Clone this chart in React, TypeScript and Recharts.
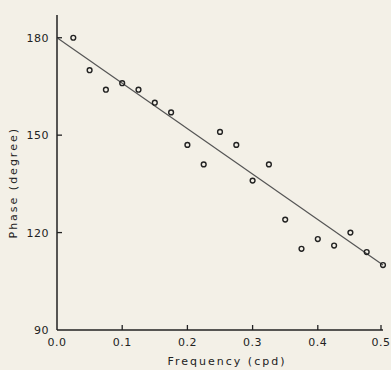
import { ScatterChart, Scatter, XAxis, YAxis } from "recharts";

const frequency = [0.025, 0.05, 0.075, 0.1, 0.125, 0.15, 0.175, 0.2, 0.225, 0.25, 0.275, 0.3, 0.325, 0.35, 0.375, 0.4, 0.425, 0.45, 0.475, 0.5];
const phase = [180, 170, 164, 166, 164, 160, 157, 147, 141, 151, 147, 136, 141, 124, 115, 118, 116, 120, 114, 110];

const fitX = [0, 0.5];
const fitY = [180, 110];

const xTicks = [0, 0.1, 0.2, 0.3, 0.4, 0.5];
const yTicks = [90, 120, 150, 180];

const points = frequency.map((f, i) => ({ x: f, y: phase[i] }));
const fit = fitX.map((f, i) => ({ x: f, y: fitY[i] }));

const ink = "#222";
const font = "'DejaVu Sans', sans-serif";

const XTick = (props: any) => {
  const { x, y, payload } = props;
  return (
    <g>
      {payload.value !== 0 && <line x1={x} x2={x} y1={y} y2={y - 5} stroke={ink} strokeWidth={1.3} />}
      <text x={x} y={y + 16} textAnchor="middle" fontSize={11} fill={ink} fontFamily={font} letterSpacing={0.5}>
        {payload.value.toFixed(1)}
      </text>
    </g>
  );
};

const YTick = (props: any) => {
  const { x, y, payload } = props;
  return (
    <g>
      {payload.value !== 90 && <line x1={x} x2={x + 5} y1={y} y2={y} stroke={ink} strokeWidth={1.3} />}
      <text x={x - 8} y={y + 4} textAnchor="end" fontSize={11} fill={ink} fontFamily={font} letterSpacing={0.5}>
        {payload.value}
      </text>
    </g>
  );
};

const Ring = (props: any) => (
  <circle cx={props.cx} cy={props.cy} r={2.4} fill="none" stroke={ink} strokeWidth={1.4} />
);

export default function App() {
  return (
    <div style={{ position: "absolute", left: 0, top: 0, width: 391, height: 370, background: "#f3f0e7" }}>
      <ScatterChart width={391} height={370} margin={{ top: 15, right: 8, bottom: 0, left: 0 }}>
        <XAxis
          type="number"
          dataKey="x"
          domain={[0, 0.5]}
          ticks={xTicks}
          tick={<XTick />}
          tickSize={0}
          tickMargin={0}
          height={40}
          axisLine={{ stroke: ink, strokeWidth: 1.5 }}
          label={{ value: "Frequency (cpd)", position: "insideBottom", offset: 5, dx: 7, fontSize: 11, fill: ink, fontFamily: font, letterSpacing: 2 }}
        />
        <YAxis
          type="number"
          dataKey="y"
          domain={[90, 187]}
          ticks={yTicks}
          tick={<YTick />}
          tickSize={0}
          tickMargin={0}
          width={57}
          axisLine={{ stroke: ink, strokeWidth: 1.5 }}
          label={{ value: "Phase (degree)", angle: -90, position: "insideLeft", offset: 13, dy: 66, fontSize: 11, fill: ink, fontFamily: font, letterSpacing: 2 }}
        />
        <Scatter data={fit} line={{ stroke: "#555", strokeWidth: 1.2 }} shape={() => null} isAnimationActive={false} />
        <Scatter data={points} shape={<Ring />} isAnimationActive={false} />
      </ScatterChart>
    </div>
  );
}
